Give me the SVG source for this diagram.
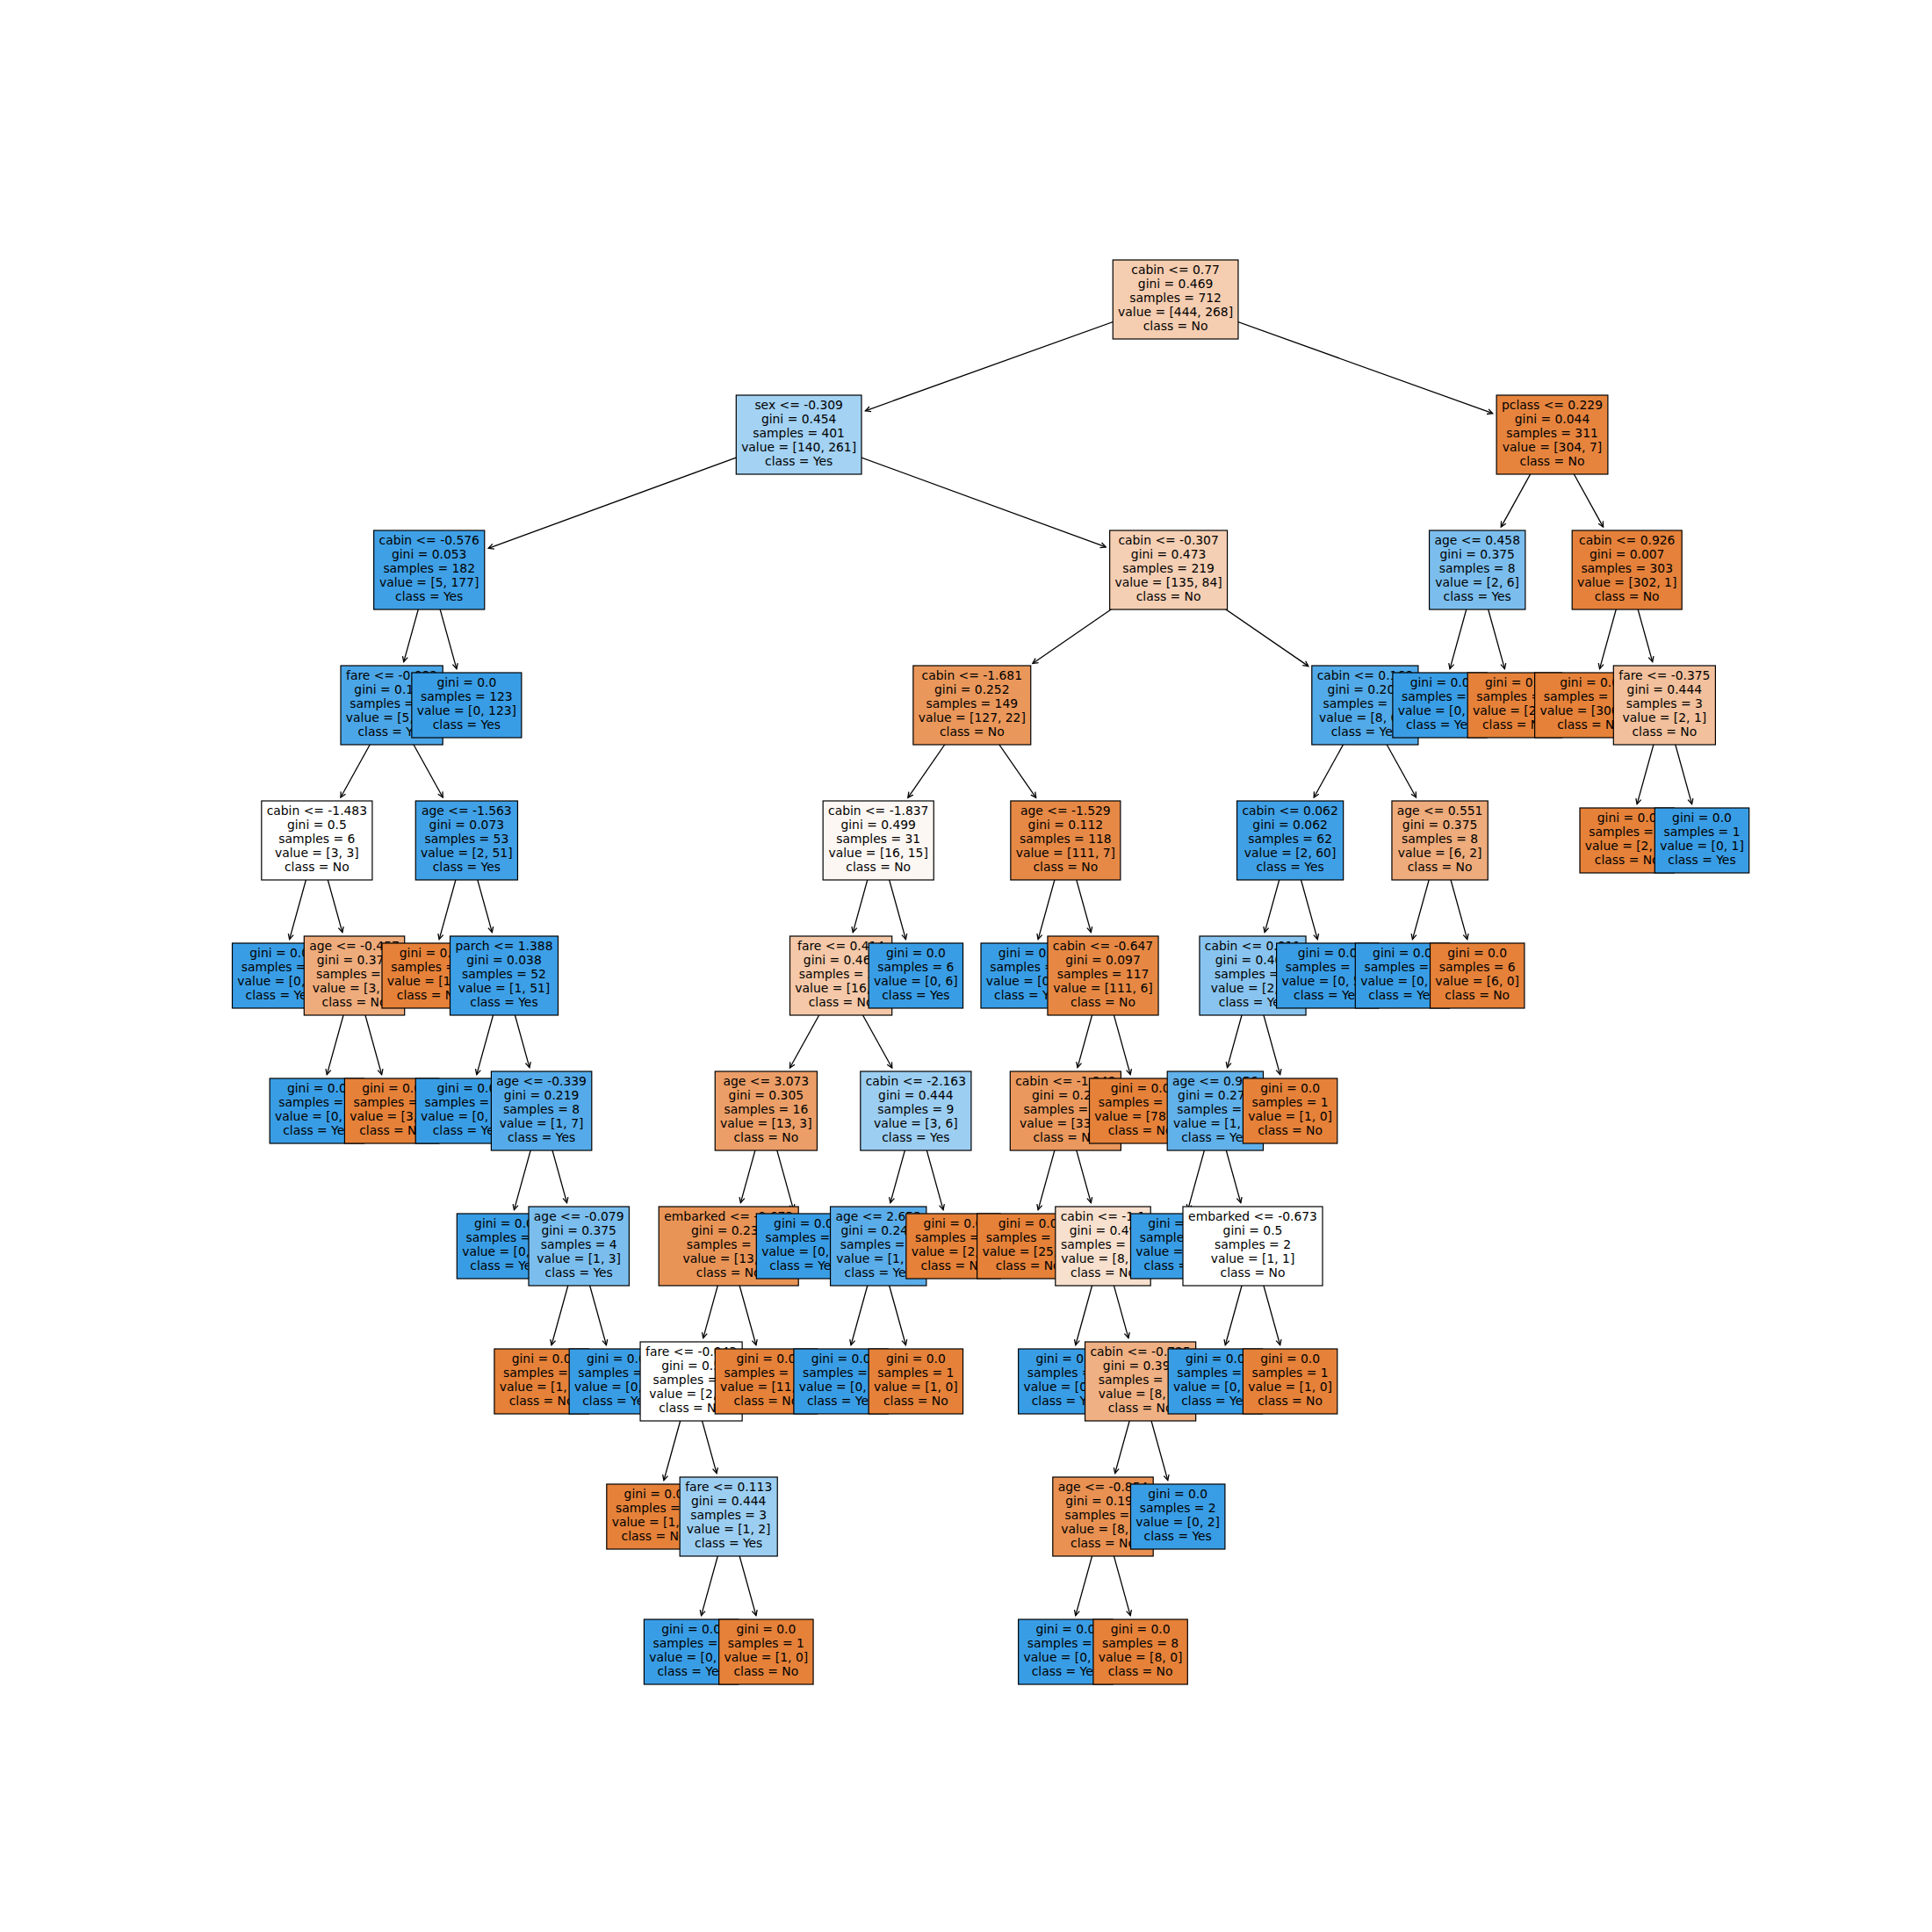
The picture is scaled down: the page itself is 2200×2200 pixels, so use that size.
<svg xmlns="http://www.w3.org/2000/svg" width="2200" height="2200" viewBox="0 0 2200 2200">
<style>
.nd rect{stroke:#000;stroke-width:1.2}
.nd text{font-family:"DejaVu Sans","Liberation Sans",sans-serif;font-size:13.89px;fill:#000;text-anchor:middle}
.cn path{fill:none;stroke:#000;stroke-width:1.3}
.Y{fill:#399de5}.N{fill:#e58139}
</style>
<defs>
<marker id="ah" viewBox="-8 -5 10 10" refX="0" refY="0" markerWidth="10" markerHeight="10" markerUnits="userSpaceOnUse" orient="auto">
<path d="M-6,-3 L0,0 L-6,3" fill="none" stroke="#000" stroke-width="1.3"/>
</marker>
</defs>
<rect width="2200" height="2200" fill="#fff"/>
<!-- edges: from parent centre to child box edge -->
<g id="connectors" class="cn" marker-end="url(#ah)">
<path d="M1338.6,341 L985.4,467.8" marker-end="url(#ah)"/>
<path d="M1338.6,341 L1699.7,470.7" marker-end="url(#ah)"/>
<path d="M909.65,495 L556.2,624.3" marker-end="url(#ah)"/>
<path d="M909.65,495 L1259.2,622.9" marker-end="url(#ah)"/>
<path d="M1767.5,495 L1709.3,600.1" marker-end="url(#ah)"/>
<path d="M1767.5,495 L1825.6,600.1" marker-end="url(#ah)"/>
<path d="M488.7,649 L459.76,753.66" marker-end="url(#ah)"/>
<path d="M488.7,649 L519.91,761.66" marker-end="url(#ah)"/>
<path d="M1330.6,649 L1175.9,755.45" marker-end="url(#ah)"/>
<path d="M1330.6,649 L1489.9,758.6" marker-end="url(#ah)"/>
<path d="M1682.2,649 L1651.04,761.66" marker-end="url(#ah)"/>
<path d="M1682.2,649 L1713.41,761.66" marker-end="url(#ah)"/>
<path d="M1852.7,649 L1821.54,761.66" marker-end="url(#ah)"/>
<path d="M1852.7,649 L1881.7,753.66" marker-end="url(#ah)"/>
<path d="M446.1,803 L387.94,908.06" marker-end="url(#ah)"/>
<path d="M446.1,803 L504.26,908.06" marker-end="url(#ah)"/>
<path d="M1106.8,803 L1033.9,908.3" marker-end="url(#ah)"/>
<path d="M1106.8,803 L1179.7,908.3" marker-end="url(#ah)"/>
<path d="M1554.35,803 L1496.2,908.06" marker-end="url(#ah)"/>
<path d="M1554.35,803 L1612.5,908.06" marker-end="url(#ah)"/>
<path d="M1895.35,803 L1864.14,915.66" marker-end="url(#ah)"/>
<path d="M1895.35,803 L1926.56,915.66" marker-end="url(#ah)"/>
<path d="M360.85,957 L329.64,1069.66" marker-end="url(#ah)"/>
<path d="M360.85,957 L389.84,1061.66" marker-end="url(#ah)"/>
<path d="M531.35,957 L500.14,1069.66" marker-end="url(#ah)"/>
<path d="M531.35,957 L560.34,1061.66" marker-end="url(#ah)"/>
<path d="M1000.2,957 L971.26,1061.66" marker-end="url(#ah)"/>
<path d="M1000.2,957 L1031.41,1069.66" marker-end="url(#ah)"/>
<path d="M1213.35,957 L1182.14,1069.66" marker-end="url(#ah)"/>
<path d="M1213.35,957 L1242.34,1061.66" marker-end="url(#ah)"/>
<path d="M1469.1,957 L1440.16,1061.66" marker-end="url(#ah)"/>
<path d="M1469.1,957 L1500.26,1069.66" marker-end="url(#ah)"/>
<path d="M1639.6,957 L1608.44,1069.66" marker-end="url(#ah)"/>
<path d="M1639.6,957 L1670.76,1069.66" marker-end="url(#ah)"/>
<path d="M403.5,1111 L372.29,1223.66" marker-end="url(#ah)"/>
<path d="M403.5,1111 L434.66,1223.66" marker-end="url(#ah)"/>
<path d="M574,1111 L542.79,1223.66" marker-end="url(#ah)"/>
<path d="M574,1111 L602.94,1215.66" marker-end="url(#ah)"/>
<path d="M957.6,1111 L899.44,1216.06" marker-end="url(#ah)"/>
<path d="M957.6,1111 L1015.76,1216.06" marker-end="url(#ah)"/>
<path d="M1256,1111 L1227.01,1215.66" marker-end="url(#ah)"/>
<path d="M1256,1111 L1287.16,1223.66" marker-end="url(#ah)"/>
<path d="M1426.5,1111 L1397.51,1215.66" marker-end="url(#ah)"/>
<path d="M1426.5,1111 L1457.66,1223.66" marker-end="url(#ah)"/>
<path d="M616.6,1265 L585.44,1377.66" marker-end="url(#ah)"/>
<path d="M616.6,1265 L645.54,1369.66" marker-end="url(#ah)"/>
<path d="M872.35,1265 L843.36,1369.66" marker-end="url(#ah)"/>
<path d="M872.35,1265 L903.56,1377.66" marker-end="url(#ah)"/>
<path d="M1042.85,1265 L1013.86,1369.66" marker-end="url(#ah)"/>
<path d="M1042.85,1265 L1074.06,1377.66" marker-end="url(#ah)"/>
<path d="M1213.35,1265 L1182.14,1377.66" marker-end="url(#ah)"/>
<path d="M1213.35,1265 L1242.34,1369.66" marker-end="url(#ah)"/>
<path d="M1383.85,1265 L1352.64,1377.66" marker-end="url(#ah)"/>
<path d="M1383.85,1265 L1412.84,1369.66" marker-end="url(#ah)"/>
<path d="M659.2,1419 L628.04,1531.66" marker-end="url(#ah)"/>
<path d="M659.2,1419 L690.41,1531.66" marker-end="url(#ah)"/>
<path d="M829.7,1419 L800.76,1523.66" marker-end="url(#ah)"/>
<path d="M829.7,1419 L860.91,1531.66" marker-end="url(#ah)"/>
<path d="M1000.2,1419 L969.04,1531.66" marker-end="url(#ah)"/>
<path d="M1000.2,1419 L1031.41,1531.66" marker-end="url(#ah)"/>
<path d="M1256,1419 L1224.79,1531.66" marker-end="url(#ah)"/>
<path d="M1256,1419 L1284.94,1523.66" marker-end="url(#ah)"/>
<path d="M1426.5,1419 L1395.29,1531.66" marker-end="url(#ah)"/>
<path d="M1426.5,1419 L1457.66,1531.66" marker-end="url(#ah)"/>
<path d="M787.1,1573 L755.94,1685.66" marker-end="url(#ah)"/>
<path d="M787.1,1573 L816.04,1677.66" marker-end="url(#ah)"/>
<path d="M1298.6,1573 L1269.66,1677.66" marker-end="url(#ah)"/>
<path d="M1298.6,1573 L1329.76,1685.66" marker-end="url(#ah)"/>
<path d="M829.7,1727 L798.54,1839.66" marker-end="url(#ah)"/>
<path d="M829.7,1727 L860.91,1839.66" marker-end="url(#ah)"/>
<path d="M1256,1727 L1224.79,1839.66" marker-end="url(#ah)"/>
<path d="M1256,1727 L1287.16,1839.66" marker-end="url(#ah)"/>
</g>
<!-- nodes, row by row; later boxes in a row sit on top of earlier ones -->
<g id="nodes">
<!-- depth 0 -->
<g id="n0" class="nd"><rect x="1267.25" y="296" width="142.7" height="90" fill="#f5cdb0"/><text y="312.4"><tspan x="1338.6">cabin &lt;= 0.77</tspan><tspan x="1338.6" dy="16">gini = 0.469</tspan><tspan x="1338.6" dy="16">samples = 712</tspan><tspan x="1338.6" dy="16">value = [444, 268]</tspan><tspan x="1338.6" dy="16">class = No</tspan></text></g>
<!-- depth 1 -->
<g id="n1" class="nd"><rect x="838.3" y="450" width="142.7" height="90" fill="#a3d2f3"/><text y="466.4"><tspan x="909.65">sex &lt;= -0.309</tspan><tspan x="909.65" dy="16">gini = 0.454</tspan><tspan x="909.65" dy="16">samples = 401</tspan><tspan x="909.65" dy="16">value = [140, 261]</tspan><tspan x="909.65" dy="16">class = Yes</tspan></text></g>
<g id="n2" class="nd"><rect x="1704.1" y="450" width="126.8" height="90" fill="#e6843e"/><text y="466.4"><tspan x="1767.5">pclass &lt;= 0.229</tspan><tspan x="1767.5" dy="16">gini = 0.044</tspan><tspan x="1767.5" dy="16">samples = 311</tspan><tspan x="1767.5" dy="16">value = [304, 7]</tspan><tspan x="1767.5" dy="16">class = No</tspan></text></g>
<!-- depth 2 -->
<g id="n3" class="nd"><rect x="425.65" y="604" width="126.1" height="90" fill="#3fa0e6"/><text y="620.4"><tspan x="488.7">cabin &lt;= -0.576</tspan><tspan x="488.7" dy="16">gini = 0.053</tspan><tspan x="488.7" dy="16">samples = 182</tspan><tspan x="488.7" dy="16">value = [5, 177]</tspan><tspan x="488.7" dy="16">class = Yes</tspan></text></g>
<g id="n4" class="nd"><rect x="1263.65" y="604" width="133.9" height="90" fill="#f5cfb4"/><text y="620.4"><tspan x="1330.6">cabin &lt;= -0.307</tspan><tspan x="1330.6" dy="16">gini = 0.473</tspan><tspan x="1330.6" dy="16">samples = 219</tspan><tspan x="1330.6" dy="16">value = [135, 84]</tspan><tspan x="1330.6" dy="16">class = No</tspan></text></g>
<g id="n5" class="nd"><rect x="1627.55" y="604" width="109.3" height="90" fill="#7bbeee"/><text y="620.4"><tspan x="1682.2">age &lt;= 0.458</tspan><tspan x="1682.2" dy="16">gini = 0.375</tspan><tspan x="1682.2" dy="16">samples = 8</tspan><tspan x="1682.2" dy="16">value = [2, 6]</tspan><tspan x="1682.2" dy="16">class = Yes</tspan></text></g>
<g id="n6" class="nd"><rect x="1790.2" y="604" width="125" height="90" fill="#e5813a"/><text y="620.4"><tspan x="1852.7">cabin &lt;= 0.926</tspan><tspan x="1852.7" dy="16">gini = 0.007</tspan><tspan x="1852.7" dy="16">samples = 303</tspan><tspan x="1852.7" dy="16">value = [302, 1]</tspan><tspan x="1852.7" dy="16">class = No</tspan></text></g>
<!-- depth 3 -->
<g id="n7" class="nd"><rect x="388" y="758" width="116.2" height="90" fill="#4ba6e7"/><text y="774.4"><tspan x="446.1">fare &lt;= -0.092</tspan><tspan x="446.1" dy="16">gini = 0.155</tspan><tspan x="446.1" dy="16">samples = 59</tspan><tspan x="446.1" dy="16">value = [5, 54]</tspan><tspan x="446.1" dy="16">class = Yes</tspan></text></g>
<g id="n8" class="nd"><rect class="Y" x="468.85" y="766" width="125" height="74"/><text y="782.4"><tspan x="531.35">gini = 0.0</tspan><tspan x="531.35" dy="16">samples = 123</tspan><tspan x="531.35" dy="16">value = [0, 123]</tspan><tspan x="531.35" dy="16">class = Yes</tspan></text></g>
<g id="n9" class="nd"><rect x="1039.85" y="758" width="133.9" height="90" fill="#ea975b"/><text y="774.4"><tspan x="1106.8">cabin &lt;= -1.681</tspan><tspan x="1106.8" dy="16">gini = 0.252</tspan><tspan x="1106.8" dy="16">samples = 149</tspan><tspan x="1106.8" dy="16">value = [127, 22]</tspan><tspan x="1106.8" dy="16">class = No</tspan></text></g>
<g id="n10" class="nd"><rect x="1493.8" y="758" width="121.1" height="90" fill="#52aae8"/><text y="774.4"><tspan x="1554.35">cabin &lt;= 0.168</tspan><tspan x="1554.35" dy="16">gini = 0.202</tspan><tspan x="1554.35" dy="16">samples = 70</tspan><tspan x="1554.35" dy="16">value = [8, 62]</tspan><tspan x="1554.35" dy="16">class = Yes</tspan></text></g>
<g id="n11" class="nd"><rect class="Y" x="1585.9" y="766" width="107.4" height="74"/><text y="782.4"><tspan x="1639.6">gini = 0.0</tspan><tspan x="1639.6" dy="16">samples = 6</tspan><tspan x="1639.6" dy="16">value = [0, 6]</tspan><tspan x="1639.6" dy="16">class = Yes</tspan></text></g>
<g id="n12" class="nd"><rect class="N" x="1671.15" y="766" width="107.4" height="74"/><text y="782.4"><tspan x="1724.85">gini = 0.0</tspan><tspan x="1724.85" dy="16">samples = 2</tspan><tspan x="1724.85" dy="16">value = [2, 0]</tspan><tspan x="1724.85" dy="16">class = No</tspan></text></g>
<g id="n13" class="nd"><rect class="N" x="1747.6" y="766" width="125" height="74"/><text y="782.4"><tspan x="1810.1">gini = 0.0</tspan><tspan x="1810.1" dy="16">samples = 300</tspan><tspan x="1810.1" dy="16">value = [300, 0]</tspan><tspan x="1810.1" dy="16">class = No</tspan></text></g>
<g id="n14" class="nd"><rect x="1837.3" y="758" width="116.1" height="90" fill="#f2c09c"/><text y="774.4"><tspan x="1895.35">fare &lt;= -0.375</tspan><tspan x="1895.35" dy="16">gini = 0.444</tspan><tspan x="1895.35" dy="16">samples = 3</tspan><tspan x="1895.35" dy="16">value = [2, 1]</tspan><tspan x="1895.35" dy="16">class = No</tspan></text></g>
<!-- depth 4 -->
<g id="n15" class="nd"><rect x="297.8" y="912" width="126.1" height="90" fill="#ffffff"/><text y="928.4"><tspan x="360.85">cabin &lt;= -1.483</tspan><tspan x="360.85" dy="16">gini = 0.5</tspan><tspan x="360.85" dy="16">samples = 6</tspan><tspan x="360.85" dy="16">value = [3, 3]</tspan><tspan x="360.85" dy="16">class = No</tspan></text></g>
<g id="n16" class="nd"><rect x="473.25" y="912" width="116.2" height="90" fill="#41a1e6"/><text y="928.4"><tspan x="531.35">age &lt;= -1.563</tspan><tspan x="531.35" dy="16">gini = 0.073</tspan><tspan x="531.35" dy="16">samples = 53</tspan><tspan x="531.35" dy="16">value = [2, 51]</tspan><tspan x="531.35" dy="16">class = Yes</tspan></text></g>
<g id="n17" class="nd"><rect x="937.15" y="912" width="126.1" height="90" fill="#fdf7f3"/><text y="928.4"><tspan x="1000.2">cabin &lt;= -1.837</tspan><tspan x="1000.2" dy="16">gini = 0.499</tspan><tspan x="1000.2" dy="16">samples = 31</tspan><tspan x="1000.2" dy="16">value = [16, 15]</tspan><tspan x="1000.2" dy="16">class = No</tspan></text></g>
<g id="n18" class="nd"><rect x="1150.85" y="912" width="125" height="90" fill="#e78946"/><text y="928.4"><tspan x="1213.35">age &lt;= -1.529</tspan><tspan x="1213.35" dy="16">gini = 0.112</tspan><tspan x="1213.35" dy="16">samples = 118</tspan><tspan x="1213.35" dy="16">value = [111, 7]</tspan><tspan x="1213.35" dy="16">class = No</tspan></text></g>
<g id="n19" class="nd"><rect x="1408.55" y="912" width="121.1" height="90" fill="#40a0e6"/><text y="928.4"><tspan x="1469.1">cabin &lt;= 0.062</tspan><tspan x="1469.1" dy="16">gini = 0.062</tspan><tspan x="1469.1" dy="16">samples = 62</tspan><tspan x="1469.1" dy="16">value = [2, 60]</tspan><tspan x="1469.1" dy="16">class = Yes</tspan></text></g>
<g id="n20" class="nd"><rect x="1584.95" y="912" width="109.3" height="90" fill="#eeab7b"/><text y="928.4"><tspan x="1639.6">age &lt;= 0.551</tspan><tspan x="1639.6" dy="16">gini = 0.375</tspan><tspan x="1639.6" dy="16">samples = 8</tspan><tspan x="1639.6" dy="16">value = [6, 2]</tspan><tspan x="1639.6" dy="16">class = No</tspan></text></g>
<g id="n21" class="nd"><rect class="N" x="1799" y="920" width="107.4" height="74"/><text y="936.4"><tspan x="1852.7">gini = 0.0</tspan><tspan x="1852.7" dy="16">samples = 2</tspan><tspan x="1852.7" dy="16">value = [2, 0]</tspan><tspan x="1852.7" dy="16">class = No</tspan></text></g>
<g id="n22" class="nd"><rect class="Y" x="1884.3" y="920" width="107.4" height="74"/><text y="936.4"><tspan x="1938">gini = 0.0</tspan><tspan x="1938" dy="16">samples = 1</tspan><tspan x="1938" dy="16">value = [0, 1]</tspan><tspan x="1938" dy="16">class = Yes</tspan></text></g>
<!-- depth 5 -->
<g id="n23" class="nd"><rect class="Y" x="264.5" y="1074" width="107.4" height="74"/><text y="1090.4"><tspan x="318.2">gini = 0.0</tspan><tspan x="318.2" dy="16">samples = 2</tspan><tspan x="318.2" dy="16">value = [0, 2]</tspan><tspan x="318.2" dy="16">class = Yes</tspan></text></g>
<g id="n24" class="nd"><rect x="346.3" y="1066" width="114.4" height="90" fill="#eeab7b"/><text y="1082.4"><tspan x="403.5">age &lt;= -0.457</tspan><tspan x="403.5" dy="16">gini = 0.375</tspan><tspan x="403.5" dy="16">samples = 4</tspan><tspan x="403.5" dy="16">value = [3, 1]</tspan><tspan x="403.5" dy="16">class = No</tspan></text></g>
<g id="n25" class="nd"><rect class="N" x="435" y="1074" width="107.4" height="74"/><text y="1090.4"><tspan x="488.7">gini = 0.0</tspan><tspan x="488.7" dy="16">samples = 1</tspan><tspan x="488.7" dy="16">value = [1, 0]</tspan><tspan x="488.7" dy="16">class = No</tspan></text></g>
<g id="n26" class="nd"><rect x="512.5" y="1066" width="123" height="90" fill="#3d9fe6"/><text y="1082.4"><tspan x="574">parch &lt;= 1.388</tspan><tspan x="574" dy="16">gini = 0.038</tspan><tspan x="574" dy="16">samples = 52</tspan><tspan x="574" dy="16">value = [1, 51]</tspan><tspan x="574" dy="16">class = Yes</tspan></text></g>
<g id="n27" class="nd"><rect x="899.5" y="1066" width="116.2" height="90" fill="#f4c8a8"/><text y="1082.4"><tspan x="957.6">fare &lt;= 0.414</tspan><tspan x="957.6" dy="16">gini = 0.461</tspan><tspan x="957.6" dy="16">samples = 25</tspan><tspan x="957.6" dy="16">value = [16, 9]</tspan><tspan x="957.6" dy="16">class = No</tspan></text></g>
<g id="n28" class="nd"><rect class="Y" x="989.15" y="1074" width="107.4" height="74"/><text y="1090.4"><tspan x="1042.85">gini = 0.0</tspan><tspan x="1042.85" dy="16">samples = 6</tspan><tspan x="1042.85" dy="16">value = [0, 6]</tspan><tspan x="1042.85" dy="16">class = Yes</tspan></text></g>
<g id="n29" class="nd"><rect class="Y" x="1117" y="1074" width="107.4" height="74"/><text y="1090.4"><tspan x="1170.7">gini = 0.0</tspan><tspan x="1170.7" dy="16">samples = 1</tspan><tspan x="1170.7" dy="16">value = [0, 1]</tspan><tspan x="1170.7" dy="16">class = Yes</tspan></text></g>
<g id="n30" class="nd"><rect x="1192.95" y="1066" width="126.1" height="90" fill="#e68844"/><text y="1082.4"><tspan x="1256">cabin &lt;= -0.647</tspan><tspan x="1256" dy="16">gini = 0.097</tspan><tspan x="1256" dy="16">samples = 117</tspan><tspan x="1256" dy="16">value = [111, 6]</tspan><tspan x="1256" dy="16">class = No</tspan></text></g>
<g id="n31" class="nd"><rect x="1365.95" y="1066" width="121.1" height="90" fill="#88c4ef"/><text y="1082.4"><tspan x="1426.5">cabin &lt;= 0.011</tspan><tspan x="1426.5" dy="16">gini = 0.408</tspan><tspan x="1426.5" dy="16">samples = 7</tspan><tspan x="1426.5" dy="16">value = [2, 5]</tspan><tspan x="1426.5" dy="16">class = Yes</tspan></text></g>
<g id="n32" class="nd"><rect class="Y" x="1453.6" y="1074" width="116.2" height="74"/><text y="1090.4"><tspan x="1511.7">gini = 0.0</tspan><tspan x="1511.7" dy="16">samples = 55</tspan><tspan x="1511.7" dy="16">value = [0, 55]</tspan><tspan x="1511.7" dy="16">class = Yes</tspan></text></g>
<g id="n33" class="nd"><rect class="Y" x="1543.3" y="1074" width="107.4" height="74"/><text y="1090.4"><tspan x="1597">gini = 0.0</tspan><tspan x="1597" dy="16">samples = 2</tspan><tspan x="1597" dy="16">value = [0, 2]</tspan><tspan x="1597" dy="16">class = Yes</tspan></text></g>
<g id="n34" class="nd"><rect class="N" x="1628.5" y="1074" width="107.4" height="74"/><text y="1090.4"><tspan x="1682.2">gini = 0.0</tspan><tspan x="1682.2" dy="16">samples = 6</tspan><tspan x="1682.2" dy="16">value = [6, 0]</tspan><tspan x="1682.2" dy="16">class = No</tspan></text></g>
<!-- depth 6 -->
<g id="n35" class="nd"><rect class="Y" x="307.15" y="1228" width="107.4" height="74"/><text y="1244.4"><tspan x="360.85">gini = 0.0</tspan><tspan x="360.85" dy="16">samples = 1</tspan><tspan x="360.85" dy="16">value = [0, 1]</tspan><tspan x="360.85" dy="16">class = Yes</tspan></text></g>
<g id="n36" class="nd"><rect class="N" x="392.4" y="1228" width="107.4" height="74"/><text y="1244.4"><tspan x="446.1">gini = 0.0</tspan><tspan x="446.1" dy="16">samples = 3</tspan><tspan x="446.1" dy="16">value = [3, 0]</tspan><tspan x="446.1" dy="16">class = No</tspan></text></g>
<g id="n37" class="nd"><rect class="Y" x="473.25" y="1228" width="116.2" height="74"/><text y="1244.4"><tspan x="531.35">gini = 0.0</tspan><tspan x="531.35" dy="16">samples = 44</tspan><tspan x="531.35" dy="16">value = [0, 44]</tspan><tspan x="531.35" dy="16">class = Yes</tspan></text></g>
<g id="n38" class="nd"><rect x="559.4" y="1220" width="114.4" height="90" fill="#55abe9"/><text y="1236.4"><tspan x="616.6">age &lt;= -0.339</tspan><tspan x="616.6" dy="16">gini = 0.219</tspan><tspan x="616.6" dy="16">samples = 8</tspan><tspan x="616.6" dy="16">value = [1, 7]</tspan><tspan x="616.6" dy="16">class = Yes</tspan></text></g>
<g id="n39" class="nd"><rect x="814.25" y="1220" width="116.2" height="90" fill="#eb9e67"/><text y="1236.4"><tspan x="872.35">age &lt;= 3.073</tspan><tspan x="872.35" dy="16">gini = 0.305</tspan><tspan x="872.35" dy="16">samples = 16</tspan><tspan x="872.35" dy="16">value = [13, 3]</tspan><tspan x="872.35" dy="16">class = No</tspan></text></g>
<g id="n40" class="nd"><rect x="979.8" y="1220" width="126.1" height="90" fill="#9ccef2"/><text y="1236.4"><tspan x="1042.85">cabin &lt;= -2.163</tspan><tspan x="1042.85" dy="16">gini = 0.444</tspan><tspan x="1042.85" dy="16">samples = 9</tspan><tspan x="1042.85" dy="16">value = [3, 6]</tspan><tspan x="1042.85" dy="16">class = Yes</tspan></text></g>
<g id="n41" class="nd"><rect x="1150.3" y="1220" width="126.1" height="90" fill="#ea985d"/><text y="1236.4"><tspan x="1213.35">cabin &lt;= -1.249</tspan><tspan x="1213.35" dy="16">gini = 0.26</tspan><tspan x="1213.35" dy="16">samples = 39</tspan><tspan x="1213.35" dy="16">value = [33, 6]</tspan><tspan x="1213.35" dy="16">class = No</tspan></text></g>
<g id="n42" class="nd"><rect class="N" x="1240.5" y="1228" width="116.2" height="74"/><text y="1244.4"><tspan x="1298.6">gini = 0.0</tspan><tspan x="1298.6" dy="16">samples = 78</tspan><tspan x="1298.6" dy="16">value = [78, 0]</tspan><tspan x="1298.6" dy="16">class = No</tspan></text></g>
<g id="n43" class="nd"><rect x="1329.2" y="1220" width="109.3" height="90" fill="#61b1ea"/><text y="1236.4"><tspan x="1383.85">age &lt;= 0.956</tspan><tspan x="1383.85" dy="16">gini = 0.278</tspan><tspan x="1383.85" dy="16">samples = 6</tspan><tspan x="1383.85" dy="16">value = [1, 5]</tspan><tspan x="1383.85" dy="16">class = Yes</tspan></text></g>
<g id="n44" class="nd"><rect class="N" x="1415.4" y="1228" width="107.4" height="74"/><text y="1244.4"><tspan x="1469.1">gini = 0.0</tspan><tspan x="1469.1" dy="16">samples = 1</tspan><tspan x="1469.1" dy="16">value = [1, 0]</tspan><tspan x="1469.1" dy="16">class = No</tspan></text></g>
<!-- depth 7 -->
<g id="n45" class="nd"><rect class="Y" x="520.3" y="1382" width="107.4" height="74"/><text y="1398.4"><tspan x="574">gini = 0.0</tspan><tspan x="574" dy="16">samples = 4</tspan><tspan x="574" dy="16">value = [0, 4]</tspan><tspan x="574" dy="16">class = Yes</tspan></text></g>
<g id="n46" class="nd"><rect x="602" y="1374" width="114.4" height="90" fill="#7bbeee"/><text y="1390.4"><tspan x="659.2">age &lt;= -0.079</tspan><tspan x="659.2" dy="16">gini = 0.375</tspan><tspan x="659.2" dy="16">samples = 4</tspan><tspan x="659.2" dy="16">value = [1, 3]</tspan><tspan x="659.2" dy="16">class = Yes</tspan></text></g>
<g id="n47" class="nd"><rect x="750.2" y="1374" width="159" height="90" fill="#e99457"/><text y="1390.4"><tspan x="829.7">embarked &lt;= -0.673</tspan><tspan x="829.7" dy="16">gini = 0.231</tspan><tspan x="829.7" dy="16">samples = 15</tspan><tspan x="829.7" dy="16">value = [13, 2]</tspan><tspan x="829.7" dy="16">class = No</tspan></text></g>
<g id="n48" class="nd"><rect class="Y" x="861.3" y="1382" width="107.4" height="74"/><text y="1398.4"><tspan x="915">gini = 0.0</tspan><tspan x="915" dy="16">samples = 1</tspan><tspan x="915" dy="16">value = [0, 1]</tspan><tspan x="915" dy="16">class = Yes</tspan></text></g>
<g id="n49" class="nd"><rect x="945.55" y="1374" width="109.3" height="90" fill="#5aade9"/><text y="1390.4"><tspan x="1000.2">age &lt;= 2.652</tspan><tspan x="1000.2" dy="16">gini = 0.245</tspan><tspan x="1000.2" dy="16">samples = 7</tspan><tspan x="1000.2" dy="16">value = [1, 6]</tspan><tspan x="1000.2" dy="16">class = Yes</tspan></text></g>
<g id="n50" class="nd"><rect class="N" x="1031.8" y="1382" width="107.4" height="74"/><text y="1398.4"><tspan x="1085.5">gini = 0.0</tspan><tspan x="1085.5" dy="16">samples = 2</tspan><tspan x="1085.5" dy="16">value = [2, 0]</tspan><tspan x="1085.5" dy="16">class = No</tspan></text></g>
<g id="n51" class="nd"><rect class="N" x="1112.6" y="1382" width="116.2" height="74"/><text y="1398.4"><tspan x="1170.7">gini = 0.0</tspan><tspan x="1170.7" dy="16">samples = 25</tspan><tspan x="1170.7" dy="16">value = [25, 0]</tspan><tspan x="1170.7" dy="16">class = No</tspan></text></g>
<g id="n52" class="nd"><rect x="1201.8" y="1374" width="108.4" height="90" fill="#f8e0ce"/><text y="1390.4"><tspan x="1256">cabin &lt;= -1.1</tspan><tspan x="1256" dy="16">gini = 0.49</tspan><tspan x="1256" dy="16">samples = 14</tspan><tspan x="1256" dy="16">value = [8, 6]</tspan><tspan x="1256" dy="16">class = No</tspan></text></g>
<g id="n53" class="nd"><rect class="Y" x="1287.5" y="1382" width="107.4" height="74"/><text y="1398.4"><tspan x="1341.2">gini = 0.0</tspan><tspan x="1341.2" dy="16">samples = 3</tspan><tspan x="1341.2" dy="16">value = [0, 3]</tspan><tspan x="1341.2" dy="16">class = Yes</tspan></text></g>
<g id="n54" class="nd"><rect x="1347" y="1374" width="159" height="90" fill="#ffffff"/><text y="1390.4"><tspan x="1426.5">embarked &lt;= -0.673</tspan><tspan x="1426.5" dy="16">gini = 0.5</tspan><tspan x="1426.5" dy="16">samples = 2</tspan><tspan x="1426.5" dy="16">value = [1, 1]</tspan><tspan x="1426.5" dy="16">class = No</tspan></text></g>
<!-- depth 8 -->
<g id="n55" class="nd"><rect class="N" x="562.9" y="1536" width="107.4" height="74"/><text y="1552.4"><tspan x="616.6">gini = 0.0</tspan><tspan x="616.6" dy="16">samples = 1</tspan><tspan x="616.6" dy="16">value = [1, 0]</tspan><tspan x="616.6" dy="16">class = No</tspan></text></g>
<g id="n56" class="nd"><rect class="Y" x="648.15" y="1536" width="107.4" height="74"/><text y="1552.4"><tspan x="701.85">gini = 0.0</tspan><tspan x="701.85" dy="16">samples = 3</tspan><tspan x="701.85" dy="16">value = [0, 3]</tspan><tspan x="701.85" dy="16">class = Yes</tspan></text></g>
<g id="n57" class="nd"><rect x="729.05" y="1528" width="116.1" height="90" fill="#ffffff"/><text y="1544.4"><tspan x="787.1">fare &lt;= -0.043</tspan><tspan x="787.1" dy="16">gini = 0.5</tspan><tspan x="787.1" dy="16">samples = 4</tspan><tspan x="787.1" dy="16">value = [2, 2]</tspan><tspan x="787.1" dy="16">class = No</tspan></text></g>
<g id="n58" class="nd"><rect class="N" x="814.25" y="1536" width="116.2" height="74"/><text y="1552.4"><tspan x="872.35">gini = 0.0</tspan><tspan x="872.35" dy="16">samples = 11</tspan><tspan x="872.35" dy="16">value = [11, 0]</tspan><tspan x="872.35" dy="16">class = No</tspan></text></g>
<g id="n59" class="nd"><rect class="Y" x="903.9" y="1536" width="107.4" height="74"/><text y="1552.4"><tspan x="957.6">gini = 0.0</tspan><tspan x="957.6" dy="16">samples = 6</tspan><tspan x="957.6" dy="16">value = [0, 6]</tspan><tspan x="957.6" dy="16">class = Yes</tspan></text></g>
<g id="n60" class="nd"><rect class="N" x="989.15" y="1536" width="107.4" height="74"/><text y="1552.4"><tspan x="1042.85">gini = 0.0</tspan><tspan x="1042.85" dy="16">samples = 1</tspan><tspan x="1042.85" dy="16">value = [1, 0]</tspan><tspan x="1042.85" dy="16">class = No</tspan></text></g>
<g id="n61" class="nd"><rect class="Y" x="1159.65" y="1536" width="107.4" height="74"/><text y="1552.4"><tspan x="1213.35">gini = 0.0</tspan><tspan x="1213.35" dy="16">samples = 3</tspan><tspan x="1213.35" dy="16">value = [0, 3]</tspan><tspan x="1213.35" dy="16">class = Yes</tspan></text></g>
<g id="n62" class="nd"><rect x="1235.55" y="1528" width="126.1" height="90" fill="#efb083"/><text y="1544.4"><tspan x="1298.6">cabin &lt;= -0.725</tspan><tspan x="1298.6" dy="16">gini = 0.397</tspan><tspan x="1298.6" dy="16">samples = 11</tspan><tspan x="1298.6" dy="16">value = [8, 3]</tspan><tspan x="1298.6" dy="16">class = No</tspan></text></g>
<g id="n63" class="nd"><rect class="Y" x="1330.15" y="1536" width="107.4" height="74"/><text y="1552.4"><tspan x="1383.85">gini = 0.0</tspan><tspan x="1383.85" dy="16">samples = 1</tspan><tspan x="1383.85" dy="16">value = [0, 1]</tspan><tspan x="1383.85" dy="16">class = Yes</tspan></text></g>
<g id="n64" class="nd"><rect class="N" x="1415.4" y="1536" width="107.4" height="74"/><text y="1552.4"><tspan x="1469.1">gini = 0.0</tspan><tspan x="1469.1" dy="16">samples = 1</tspan><tspan x="1469.1" dy="16">value = [1, 0]</tspan><tspan x="1469.1" dy="16">class = No</tspan></text></g>
<!-- depth 9 -->
<g id="n65" class="nd"><rect class="N" x="690.8" y="1690" width="107.4" height="74"/><text y="1706.4"><tspan x="744.5">gini = 0.0</tspan><tspan x="744.5" dy="16">samples = 1</tspan><tspan x="744.5" dy="16">value = [1, 0]</tspan><tspan x="744.5" dy="16">class = No</tspan></text></g>
<g id="n66" class="nd"><rect x="774.15" y="1682" width="111.1" height="90" fill="#9ccef2"/><text y="1698.4"><tspan x="829.7">fare &lt;= 0.113</tspan><tspan x="829.7" dy="16">gini = 0.444</tspan><tspan x="829.7" dy="16">samples = 3</tspan><tspan x="829.7" dy="16">value = [1, 2]</tspan><tspan x="829.7" dy="16">class = Yes</tspan></text></g>
<g id="n67" class="nd"><rect x="1198.8" y="1682" width="114.4" height="90" fill="#e89152"/><text y="1698.4"><tspan x="1256">age &lt;= -0.854</tspan><tspan x="1256" dy="16">gini = 0.198</tspan><tspan x="1256" dy="16">samples = 9</tspan><tspan x="1256" dy="16">value = [8, 1]</tspan><tspan x="1256" dy="16">class = No</tspan></text></g>
<g id="n68" class="nd"><rect class="Y" x="1287.5" y="1690" width="107.4" height="74"/><text y="1706.4"><tspan x="1341.2">gini = 0.0</tspan><tspan x="1341.2" dy="16">samples = 2</tspan><tspan x="1341.2" dy="16">value = [0, 2]</tspan><tspan x="1341.2" dy="16">class = Yes</tspan></text></g>
<!-- depth 10 -->
<g id="n69" class="nd"><rect class="Y" x="733.4" y="1844" width="107.4" height="74"/><text y="1860.4"><tspan x="787.1">gini = 0.0</tspan><tspan x="787.1" dy="16">samples = 2</tspan><tspan x="787.1" dy="16">value = [0, 2]</tspan><tspan x="787.1" dy="16">class = Yes</tspan></text></g>
<g id="n70" class="nd"><rect class="N" x="818.65" y="1844" width="107.4" height="74"/><text y="1860.4"><tspan x="872.35">gini = 0.0</tspan><tspan x="872.35" dy="16">samples = 1</tspan><tspan x="872.35" dy="16">value = [1, 0]</tspan><tspan x="872.35" dy="16">class = No</tspan></text></g>
<g id="n71" class="nd"><rect class="Y" x="1159.65" y="1844" width="107.4" height="74"/><text y="1860.4"><tspan x="1213.35">gini = 0.0</tspan><tspan x="1213.35" dy="16">samples = 1</tspan><tspan x="1213.35" dy="16">value = [0, 1]</tspan><tspan x="1213.35" dy="16">class = Yes</tspan></text></g>
<g id="n72" class="nd"><rect class="N" x="1244.9" y="1844" width="107.4" height="74"/><text y="1860.4"><tspan x="1298.6">gini = 0.0</tspan><tspan x="1298.6" dy="16">samples = 8</tspan><tspan x="1298.6" dy="16">value = [8, 0]</tspan><tspan x="1298.6" dy="16">class = No</tspan></text></g>
</g>
</svg>
